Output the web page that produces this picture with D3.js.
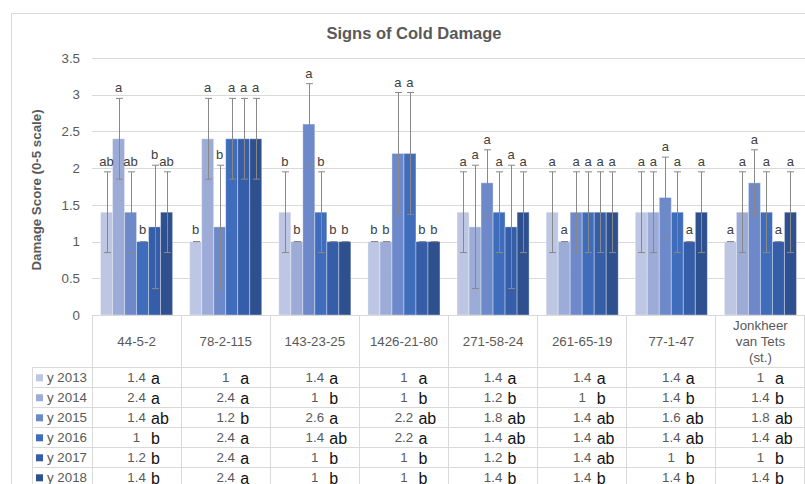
<!DOCTYPE html>
<html><head><meta charset="utf-8">
<script src="https://cdn.jsdelivr.net/npm/d3@7"></script>
<style>body{margin:0;background:#fff}svg{display:block;font-family:"Liberation Sans",Arial,sans-serif}</style>
</head><body><svg id="c" width="805" height="484"></svg>
<script>
const categories = ["44-5-2","78-2-115","143-23-25","1426-21-80","271-58-24","261-65-19","77-1-47","Jonkheer\nvan Tets\n(st.)"];
const seriesNames = ["y 2013","y 2014","y 2015","y 2016","y 2017","y 2018"];
const colors = ["#bdc6e3","#9dacd7","#6e89ca","#3f6cbb","#365ea8","#2f508e"];
const v2013 = [1.4,1,1.4,1,1.4,1.4,1.4,1];
const v2014 = [2.4,2.4,1,1,1.2,1,1.4,1.4];
const v2015 = [1.4,1.2,2.6,2.2,1.8,1.4,1.6,1.8];
const v2016 = [1,2.4,1.4,2.2,1.4,1.4,1.4,1.4];
const v2017 = [1.2,2.4,1,1,1.2,1.4,1,1];
const v2018 = [1.4,2.4,1,1,1.4,1.4,1.4,1.4];
const e2013 = [0.55,0,0.55,0,0.55,0.55,0.55,0];
const e2014 = [0.55,0.55,0,0,0.84,0,0.55,0.55];
const e2015 = [0.55,0.84,0.55,0.83,0.45,0.55,0.55,0.45];
const e2016 = [0,0.55,0.55,0.83,0.55,0.55,0.55,0.55];
const e2017 = [0.84,0.55,0,0,0.84,0.55,0,0];
const e2018 = [0.55,0.55,0,0,0.55,0.55,0.55,0.55];
const l2013 = ["ab","b","b","b","a","a","a","a"];
const l2014 = ["a","a","b","b","a","a","a","a"];
const l2015 = ["ab","b","a","a","a","a","a","a"];
const l2016 = ["b","a","b","a","a","a","a","a"];
const l2017 = ["b","a","b","b","a","a","a","a"];
const l2018 = ["ab","a","b","b","a","a","a","a"];
const t2013 = ["a","a","a","a","a","a","a","a"];
const t2014 = ["a","a","b","b","b","b","b","b"];
const t2015 = ["ab","b","a","ab","ab","ab","ab","ab"];
const t2016 = ["b","a","ab","a","ab","ab","ab","ab"];
const t2017 = ["b","a","b","b","b","ab","b","b"];
const t2018 = ["b","a","b","b","b","b","b","b"];
const yTicks = [0,0.5,1,1.5,2,2.5,3,3.5];

const values = [v2013,v2014,v2015,v2016,v2017,v2018];
const errors = [e2013,e2014,e2015,e2016,e2017,e2018];
const chartLetters = [l2013,l2014,l2015,l2016,l2017,l2018];
const tableLetters = [t2013,t2014,t2015,t2016,t2017,t2018];

const svg = d3.select("#c");
const gridC = "#d9d9d9", textC = "#595959";
const pLeft = 92, pRight = 805, pTop = 58, pBottom = 315;
const tableTop = 367.3, rowH = 20, legendLeft = 32;

// chart border
svg.append("path").attr("d", `M11.5,484 V13.5 H805`).attr("fill","none").attr("stroke",gridC);

svg.append("text").attr("x",414).attr("y",39).attr("text-anchor","middle")
  .attr("font-size",16.5).attr("font-weight","bold").attr("fill",textC).text("Signs of Cold Damage");

const x0 = d3.scaleBand().domain(categories).range([pLeft,pRight]).paddingInner(0).paddingOuter(0);
const x1 = d3.scaleBand().domain(d3.range(6)).range([0,x0.bandwidth()]).paddingInner(0).paddingOuter(0.71);
const y = d3.scaleLinear().domain([0,3.5]).range([pBottom,pTop]);

// gridlines
const yAxis = d3.axisLeft(y).tickValues(yTicks).tickSize(-(pRight-pLeft)).tickFormat(d=>String(d)).tickPadding(12);
const ga = svg.append("g").attr("transform",`translate(${pLeft},0)`).call(yAxis);
ga.select(".domain").remove();
ga.selectAll(".tick line").attr("stroke",gridC).attr("shape-rendering","crispEdges");
ga.selectAll(".tick text").attr("fill",textC).attr("font-size",13.3).attr("font-family","Liberation Sans, Arial, sans-serif");

svg.append("text").attr("transform","translate(41,190) rotate(-90)").attr("text-anchor","middle")
  .attr("font-size",13.3).attr("font-weight","bold").attr("fill",textC).text("Damage Score (0-5 scale)");

// bars
const flat = [];
categories.forEach((c,ci)=>seriesNames.forEach((s,si)=>flat.push({c,ci,si,v:values[si][ci],e:errors[si][ci],l:chartLetters[si][ci]})));
svg.append("g").selectAll("rect").data(flat).join("rect")
  .attr("x",d=>x0(d.c)+x1(d.si)).attr("width",x1.bandwidth())
  .attr("y",d=>y(d.v)).attr("height",d=>y(0)-y(d.v))
  .attr("fill",d=>colors[d.si]).attr("stroke","rgba(255,255,255,0.35)").attr("stroke-width",1);

// error bars
const eg = svg.append("g").attr("stroke","#888").attr("stroke-width",1).attr("fill","none");
flat.forEach(d=>{
  const cx = Math.round(x0(d.c)+x1(d.si)+x1.bandwidth()/2)+0.5;
  const y1 = y(d.v+d.e), y2 = y(Math.max(0,d.v-d.e));
  if(d.e>0) eg.append("line").attr("x1",cx).attr("x2",cx).attr("y1",y1).attr("y2",y2);
  eg.append("line").attr("x1",cx-3.5).attr("x2",cx+3.5).attr("y1",y1).attr("y2",y1);
  eg.append("line").attr("x1",cx-3.5).attr("x2",cx+3.5).attr("y1",y2).attr("y2",y2);
});

// data labels
svg.append("g").selectAll("text").data(flat).join("text")
  .attr("x",d=>x0(d.c)+x1(d.si)+x1.bandwidth()/2)
  .attr("y",d=>y(d.v+d.e)-(d.e>0?6:8))
  .attr("text-anchor","middle").attr("font-size",13).attr("fill","#404040").text(d=>d.l);

// table grid
const tg = svg.append("g").attr("stroke",gridC).attr("shape-rendering","crispEdges");
tg.append("line").attr("x1",pLeft).attr("x2",pRight).attr("y1",pBottom).attr("y2",pBottom);
for(let r=0;r<=6;r++){
  const yy = tableTop + r*rowH;
  tg.append("line").attr("x1",legendLeft).attr("x2",pRight).attr("y1",yy).attr("y2",yy);
}
tg.append("line").attr("x1",legendLeft).attr("x2",legendLeft).attr("y1",tableTop).attr("y2",484);
categories.forEach(c=>{
  tg.append("line").attr("x1",x0(c)).attr("x2",x0(c)).attr("y1",pBottom).attr("y2",484);
});
tg.append("line").attr("x1",pRight-0.5).attr("x2",pRight-0.5).attr("y1",pBottom).attr("y2",484);

// header labels
categories.forEach(c=>{
  const lines = c.split("\n");
  const cx = x0(c)+x0.bandwidth()/2;
  const t = svg.append("text").attr("text-anchor","middle").attr("font-size",13.3).attr("fill",textC);
  lines.forEach((ln,i)=>{
    t.append("tspan").attr("x",cx).attr("y",346 + (i-(lines.length-1)/2)*16).text(ln);
  });
});

// legend rows + values
seriesNames.forEach((s,si)=>{
  const ry = tableTop + si*rowH;
  svg.append("rect").attr("x",36).attr("y",ry+7).attr("width",7).attr("height",7).attr("fill",colors[si]);
  svg.append("text").attr("x",47).attr("y",ry+15).attr("font-size",13.3).attr("fill",textC).text(s);
  categories.forEach((c,ci)=>{
    const cx = x0(c)+x0.bandwidth()/2;
    svg.append("text").attr("x",cx).attr("y",ry+15).attr("text-anchor","middle")
      .attr("font-size",13.3).attr("fill",textC).text(String(values[si][ci]));
    svg.append("text").attr("x",cx+14.5).attr("y",ry+16.5).attr("font-size",16)
      .attr("fill","#111").text(tableLetters[si][ci]);
  });
});
</script></body></html>
